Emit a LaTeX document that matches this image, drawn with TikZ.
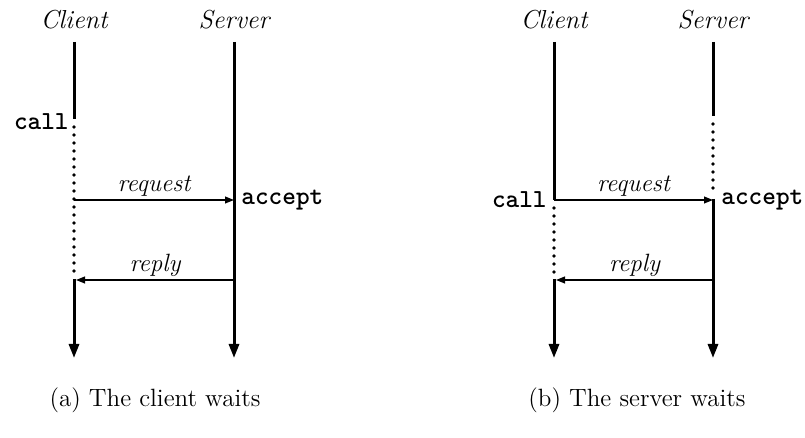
\documentclass[tikz,border=0pt]{standalone}
\usetikzlibrary{arrows.meta}
\begin{document}
\begin{tikzpicture}[x=0.5pt,y=-0.5pt,
  life/.style={line width=1.5pt},
  lifeend/.style={line width=1.5pt,-{Triangle[length=7pt,width=5pt]}},
  waitline/.style={line width=1.8pt,line cap=round,dash pattern=on 0pt off 4pt},
  msg/.style={line width=0.75pt,-{Triangle[length=4.5pt,width=3.4pt]}},
  role/.style={font=\fontsize{13}{15}\selectfont\itshape},
  lbl/.style={font=\fontsize{12.5}{15}\selectfont\itshape,inner sep=1.5pt},
  code/.style={font=\fontsize{13}{15}\selectfont\ttfamily\bfseries,inner sep=1pt},
  capt/.style={font=\fontsize{12.5}{14}\selectfont}]
\useasboundingbox (0,0) rectangle (805,438);
% ---------- panel (a) ----------
\node[role] (ca) at (74,20) {Client};
\node[role] (sa) at (234,20) {Server};
\coordinate (caT) at (74,42);
\coordinate (caW) at (74,119);
\coordinate (caD1) at (74,127);
\coordinate (caD2) at (74,273);
\coordinate (caReq) at (74,200);
\coordinate (caRep) at (76,280);
\coordinate (caR) at (74,279);
\coordinate (caE) at (74,358);
\coordinate (saT) at (234,42);
\coordinate (saReq) at (234,200);
\coordinate (saRep) at (234,280);
\coordinate (saE) at (234,358);
\draw[life] (caT) -- (caW);
\draw[waitline] (caD1) -- (caD2);
\draw[lifeend] (caR) -- (caE);
\draw[lifeend] (saT) -- (saE);
\draw[msg] (caReq) -- (saReq) node[midway,above,lbl] (rqa) {request};
\draw[msg] (saRep) -- (caRep) node[midway,above,lbl] (rpa) {reply};
\node[code,anchor=east] (calla) at (71,122) {call};
\node[code,anchor=west] (acca) at (239,200) {accept};
\node[capt] (capa) at (155,400) {(a) The client waits};
% ---------- panel (b) ----------
\node[role] (cb) at (554,20) {Client};
\node[role] (sb) at (713,20) {Server};
\coordinate (cbT) at (554,42);
\coordinate (cbReq) at (554,200);
\coordinate (cbD1) at (554,208);
\coordinate (cbD2) at (554,272);
\coordinate (cbRep) at (556,280);
\coordinate (cbR) at (554,279);
\coordinate (cbE) at (554,358);
\coordinate (sbT) at (713,42);
\coordinate (sbW) at (713,116);
\coordinate (sbD1) at (713,124);
\coordinate (sbD2) at (713,192);
\coordinate (sbReq) at (713,200);
\coordinate (sbS) at (713,199);
\coordinate (sbRep) at (713,280);
\coordinate (sbE) at (713,358);
\draw[life] (cbT) -- (cbReq);
\draw[waitline] (cbD1) -- (cbD2);
\draw[lifeend] (cbR) -- (cbE);
\draw[life] (sbT) -- (sbW);
\draw[waitline] (sbD1) -- (sbD2);
\draw[lifeend] (sbS) -- (sbE);
\draw[msg] (cbReq) -- (sbReq) node[midway,above,lbl] (rqb) {request};
\draw[msg] (sbRep) -- (cbRep) node[midway,above,lbl] (rpb) {reply};
\node[code,anchor=east] (callb) at (549,200) {call};
\node[code,anchor=west] (accb) at (719,200) {accept};
\node[capt] (capb) at (637,400) {(b) The server waits};
\end{tikzpicture}
\end{document}
